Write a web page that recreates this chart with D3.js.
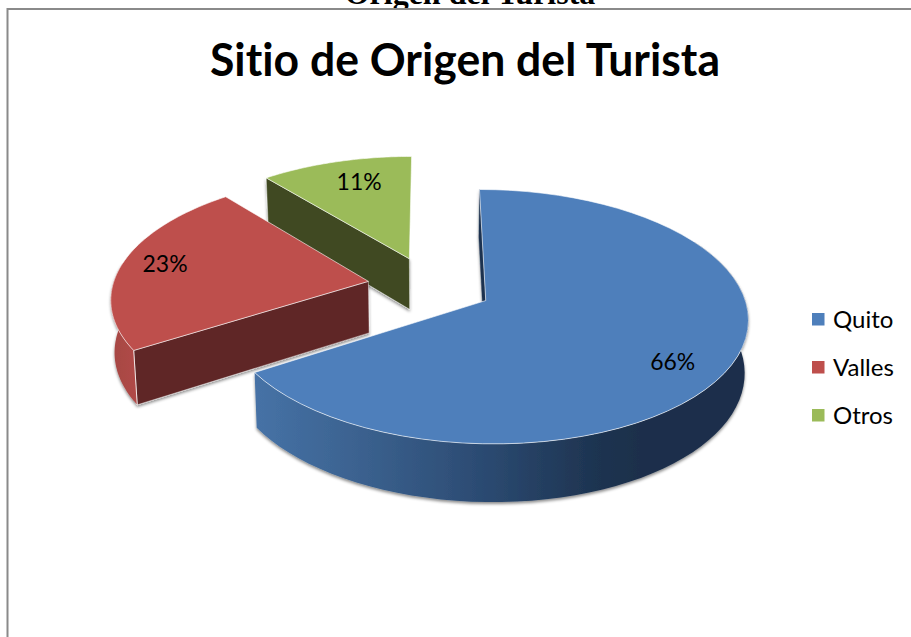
<!DOCTYPE html>
<html><head><meta charset="utf-8">
<script src="https://cdn.jsdelivr.net/npm/d3@7"></script>
<style>html,body{margin:0;padding:0;background:#fff;overflow:hidden}svg{display:block}text{font-variant-ligatures:none}</style>
</head><body><svg id="c" width="911" height="637"></svg>
<script>
const categories = ["Quito", "Valles", "Otros"];
const values = [66, 23, 11];
const topColors = ["#4E7FBB", "#BE4F4C", "#9BBB59"];
const faceColors = ["#1D3250", "#5E2525", "#3F4A20"];
const labelTweakDeg = [6, 1, 2.4];
const labelRadius = [0.81, 0.83, 0.76];
const heading = "Origen del Turista";
const title = "Sitio de Origen del Turista";

const svg = d3.select("#c");
const defs = svg.append("defs");
const blur = defs.append("filter").attr("id","sh").attr("x","-10%").attr("y","-10%").attr("width","120%").attr("height","125%");
blur.append("feDropShadow").attr("dx",0).attr("dy",2).attr("stdDeviation",1.5).attr("flood-color","#000").attr("flood-opacity",.45);

const gradB = defs.append("linearGradient").attr("id","gB").attr("gradientUnits","userSpaceOnUse").attr("x1",255).attr("x2",640).attr("y1",0).attr("y2",0);
[[0,"#4672A6"],[.25,"#3C6391"],[.6,"#2B4A71"],[.88,"#1E3451"],[1,"#1C2F4B"]].forEach(s=>gradB.append("stop").attr("offset",s[0]).attr("stop-color",s[1]));
const gradR = defs.append("linearGradient").attr("id","gR").attr("gradientUnits","userSpaceOnUse").attr("x1",110).attr("x2",136).attr("y1",0).attr("y2",0);
[[0,"#A54643"],[1,"#B04A47"]].forEach(s=>gradR.append("stop").attr("offset",s[0]).attr("stop-color",s[1]));

// heading clipped by the chart frame and the window top
svg.append("text").attr("x",470).attr("y",4).attr("text-anchor","middle")
  .attr("font-family","Liberation Serif").attr("font-weight","bold").attr("font-size",32).attr("fill","#000").text(heading);
svg.append("rect").attr("x",7.5).attr("y",9).attr("width",930).attr("height",660).attr("fill","#fff").attr("stroke","#8A8A8A").attr("stroke-width",2);

svg.append("text").attr("x",465).attr("y",76).attr("text-anchor","middle")
  .attr("font-family","Lato").attr("font-weight","bold").attr("font-size",46)
  .attr("textLength",510).attr("lengthAdjust","spacingAndGlyphs").attr("fill","#000").text(title);

// projection of the exploded pie plane
const Ox=430, Oy=286, Bx=255.8, Ay=121.5, k=0.125, explode=0.245, depth=51.7, shrink=0.988;
const dir = a => [Math.sin(a), -Math.cos(a)];
const project = (U,V,low) => {
  const s = 1/(1-k*V), f = low ? shrink : 1;
  return [Ox + Bx*U*s*f, Oy + Ay*V*s*f + (low ? depth*s : 0)];
};
const pie = d3.pie().sort(null).startAngle(0).endAngle(2*Math.PI)(values);
const line = d3.line();

const slices = pie.map((d,i)=>{
  const mid=(d.startAngle+d.endAngle)/2, m=dir(mid);
  const A=[explode*m[0], explode*m[1]];
  const pt=(a,r,low)=>{const q=dir(a);return project(A[0]+r*q[0],A[1]+r*q[1],low);};
  const arc=(a0,a1,low)=>d3.range(0,61).map(t=>pt(a0+(a1-a0)*t/60,1,low));
  return {d,i,mid,pt,arc};
});

[2,1,0].forEach(i=>{
  const s=slices[i], d=s.d, g=svg.append("g");
  const solid=g.append("g").attr("filter","url(#sh)");
  const wallA = d.startAngle;
  solid.append("path").attr("d",line([s.pt(wallA,0,false),s.pt(wallA,1,false),s.pt(wallA,1,true),s.pt(wallA,0,true)])+"Z")
    .attr("fill",faceColors[i]).attr("stroke",i===0?faceColors[0]:"#fff").attr("stroke-width",i===0?.4:.5).attr("stroke-opacity",.8);
  if(i===0){
    const a0=Math.PI/3,a1=d.endAngle;
    solid.append("path").attr("d",line(s.arc(a0,a1,false).concat(s.arc(a0,a1,true).reverse()))+"Z").attr("fill","url(#gB)");
  }
  if(i===1){
    const a0=d.startAngle,a1=s.mid;
    solid.append("path").attr("d",line(s.arc(a0,a1,false).concat(s.arc(a0,a1,true).reverse()))+"Z").attr("fill","url(#gR)");
    solid.append("path").attr("d",line([s.pt(a0,1,false),s.pt(a0,1,true)])).attr("stroke","#fff").attr("stroke-width",.8).attr("fill","none");
  }
  const topPts=[s.pt(0,0,false)].concat(s.arc(d.startAngle,d.endAngle,false));
  g.append("path").attr("d",line(topPts)+"Z").attr("fill",topColors[i]).attr("stroke","#fff").attr("stroke-opacity",.75).attr("stroke-width",.8).attr("stroke-linejoin","round");
});

slices.forEach((s,i)=>{
  const p=s.pt(s.mid+labelTweakDeg[i]*Math.PI/180,labelRadius[i],false);
  svg.append("text").attr("x",p[0]).attr("y",p[1]+7.5).attr("text-anchor","middle")
    .attr("font-family","Lato").attr("font-size",24).attr("textLength",45).attr("lengthAdjust","spacingAndGlyphs").attr("fill","#000").text(values[i]+"%");
});

const legendY=d3.scalePoint().domain(categories).range([319,415]);
categories.forEach((c,i)=>{
  svg.append("rect").attr("x",812).attr("y",legendY(c)-6).attr("width",12.5).attr("height",12.5).attr("fill",topColors[i]);
  svg.append("text").attr("x",833).attr("y",legendY(c)+8.5).attr("font-family","Lato").attr("font-size",24).attr("fill","#000").text(c);
});
</script></body></html>
